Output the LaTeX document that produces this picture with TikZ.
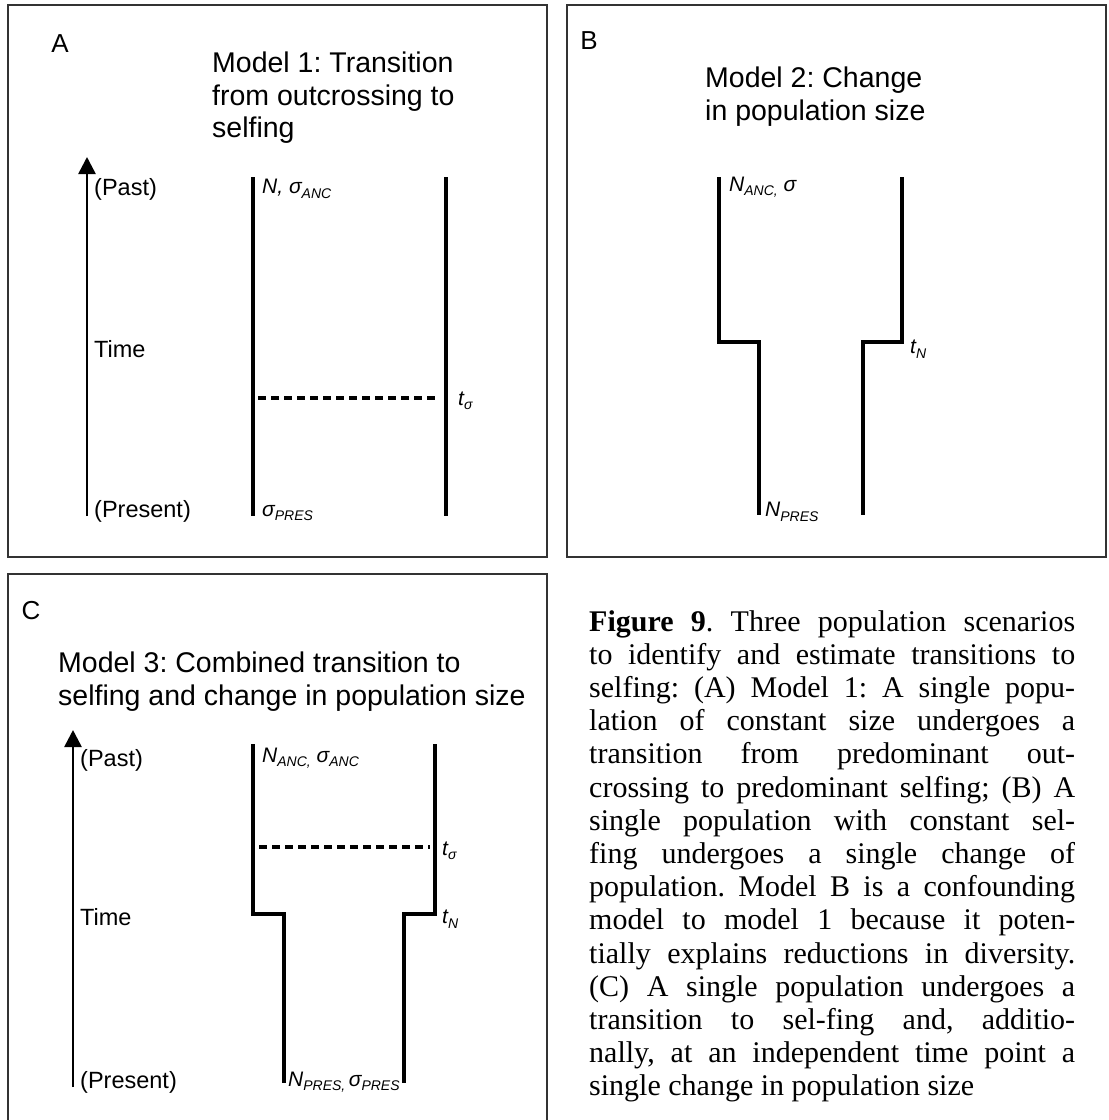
\documentclass[tikz,border=0pt]{standalone}
\usepackage{fontspec}
\setmainfont{Liberation Serif}
\setsansfont{Liberation Sans}
\usetikzlibrary{arrows.meta}
\frenchspacing

% lowered small text for the parameter names
\newcommand{\lsub}[1]{\raisebox{-0.4ex}{\fontsize{14}{14}\selectfont #1}}

\tikzset{
  panel/.style={draw=black!80, line width=1.4pt},
  pop/.style={line width=4pt, line join=miter},
  timeaxis/.style={line width=2.6pt, -{Triangle[width=17pt,length=17pt]}},
  change/.style={line width=4pt, dash pattern=on 8pt off 5pt},
  paneltag/.style={font=\sffamily\fontsize{26}{26}\selectfont, inner sep=0},
  modeltitle/.style={font=\sffamily\fontsize{28.5}{32.5}\selectfont, align=left, anchor=north west, inner sep=0},
  axislbl/.style={font=\sffamily\fontsize{23.5}{23.5}\selectfont, anchor=west, inner sep=0},
  parlbl/.style={font=\sffamily\itshape\fontsize{21}{21}\selectfont, anchor=west, inner sep=0},
}

\begin{document}
\begin{tikzpicture}[x=1pt, y=-1pt]
\useasboundingbox (0,0) rectangle (1109,1120);

% frames
\draw[panel] (8,5) rectangle (547,557);
\draw[panel] (567,5) rectangle (1106,557);
\draw[panel] (8,1120) -- (8,574) -- (547,574) -- (547,1120);

%%% A
\node[paneltag] (tagA) at (60,44) {A};
\node[modeltitle] (titleA) at (212,52) {Model 1: Transition\\from outcrossing to\\selfing};
\draw[timeaxis] (87,516) -- (87,157);
\node[axislbl] (pastA) at (94,189) {(Past)};
\node[axislbl] (timeA) at (94,349) {Time};
\node[axislbl] (presA) at (94,511) {(Present)};
\draw[pop] (253,177) -- (253,516);
\draw[pop] (446,177) -- (446,516);
\draw[change] (258,398) -- (437,398);
\node[parlbl] (ancA) at (262,189) {N, σ\lsub{ANC}};
\node[parlbl] (tsA) at (458,401) {t\lsub{σ}};
\node[parlbl] (presparA) at (262,513) {σ\lsub{PRES}};

%%% B
\node[paneltag] (tagB) at (589,41) {B};
\node[modeltitle] (titleB) at (705,67) {Model 2: Change\\in population size};
\draw[pop] (719,177) -- (719,342) -- (759,342) -- (759,515);
\draw[pop] (902,177) -- (902,342) -- (863,342) -- (863,515);
\node[parlbl] (ancB) at (729,187) {N\lsub{ANC,} σ};
\node[parlbl] (tnB) at (910,349) {t\lsub{N}};
\node[parlbl] (presB) at (765,512) {N\lsub{PRES}};

%%% C
\node[paneltag] (tagC) at (31,611) {C};
\node[modeltitle] (titleC) at (58,652) {Model 3: Combined transition to\\selfing and change in population size};
\draw[timeaxis] (73,1087) -- (73,730);
\node[axislbl] (pastC) at (80,760) {(Past)};
\node[axislbl] (timeC) at (80,917) {Time};
\node[axislbl] (presC) at (80,1082) {(Present)};
\draw[pop] (253,744) -- (253,914) -- (284,914) -- (284,1083);
\draw[pop] (435,744) -- (435,914) -- (404,914) -- (404,1083);
\draw[change] (259,847) -- (430,847);
\node[parlbl] (ancC) at (262,758) {N\lsub{ANC,} σ\lsub{ANC}};
\node[parlbl] (tsC) at (442,851) {t\lsub{σ}};
\node[parlbl] (tnC) at (442,919) {t\lsub{N}};
\node[parlbl] (presC2) at (288,1082) {N\lsub{PRES,}\,σ\lsub{PRES}};

%%% caption
\node[anchor=north west, inner sep=0, text width=486pt, align=justify,
      font=\fontsize{30}{33.2}\selectfont] (caption) at (589,610)
  {\tolerance=10000\hyphenpenalty=10000
   \textbf{Figure 9}. Three population scenarios\linebreak
   to identify and estimate transitions to\linebreak
   selfing: (A) Model 1: A single popu-\linebreak
   lation of constant size undergoes a\linebreak
   transition from predominant out-\linebreak
   crossing to predominant selfing; (B) A\linebreak
   single population with constant sel-\linebreak
   fing undergoes a single change of\linebreak
   population. Model B is a confounding\linebreak
   model to model 1 because it poten-\linebreak
   tially explains reductions in diversity.\linebreak
   (C) A single population undergoes a\linebreak
   transition to sel-fing and, additio-\linebreak
   nally, at an independent time point a\linebreak
   single change in population size};
\end{tikzpicture}
\end{document}
